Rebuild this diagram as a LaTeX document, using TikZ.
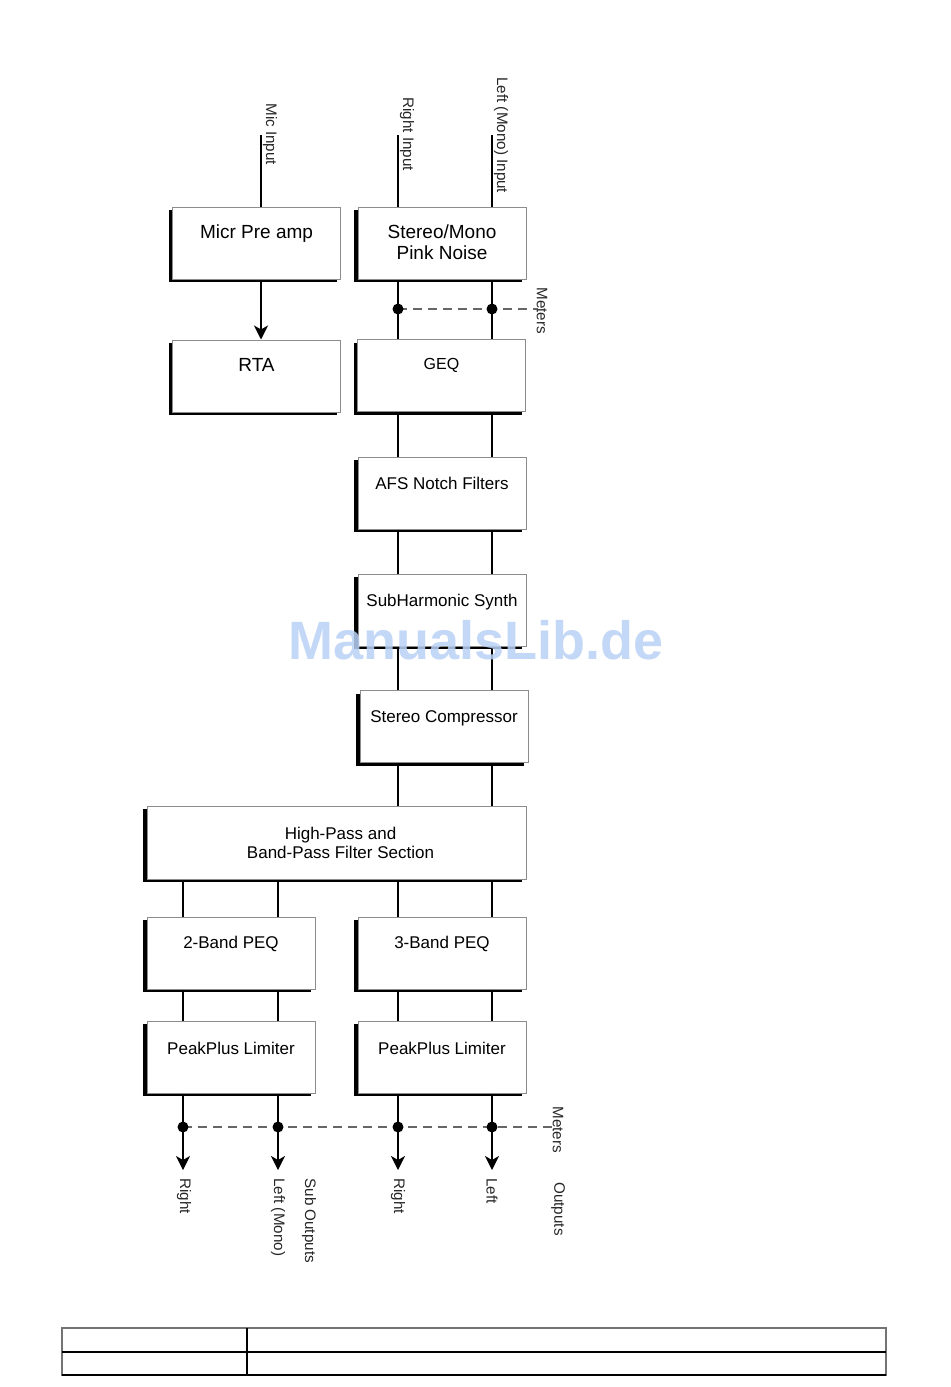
\documentclass[tikz,border=0pt]{standalone}
\usepackage{fontspec}
\setmainfont{Liberation Sans}
\usetikzlibrary{shadows,arrows.meta}
\begin{document}
\begin{tikzpicture}[x=0.5pt,y=-0.5pt,
 blk/.style={rectangle, draw=black!45, line width=0.5pt, fill=white, inner sep=0pt,
   minimum width=84pt, minimum height=36pt,
   general shadow={fill=black, shadow xshift=-1.8pt, shadow yshift=-1.6pt}},
 txt/.style={font=\fontsize{8.5}{9.5}\selectfont, align=center, inner sep=0pt},
 bigtxt/.style={font=\fontsize{9.5}{10.5}\selectfont, align=center, inner sep=0pt},
 smalltxt/.style={font=\fontsize{8}{9}\selectfont, align=center, inner sep=0pt},
 vlab/.style={font=\fontsize{7.6}{9}\selectfont, rotate=-90, anchor=west, inner sep=0pt, text=black!85},
 sig/.style={line width=1pt, black},
 thin sig/.style={line width=0.55pt, black},
 arr/.style={-{Stealth[length=7pt,width=7pt,inset=2pt]}},
 meter/.style={dash pattern=on 4.5pt off 3pt, line width=0.75pt, black!60},
 dot/.style={circle, fill=black, inner sep=0pt, minimum size=5.5pt},
]
\useasboundingbox (0,0) rectangle (950,1387);

% column coordinates
\coordinate (xmic) at (261,0);
\coordinate (xR) at (398,0);
\coordinate (xL) at (492,0);
\coordinate (xa) at (183,0);
\coordinate (xb) at (278,0);

% boxes
\node[blk] (mic) at (256.5,243) {};
\node[blk] (pink) at (442,243) {};
\node[blk] (rta) at (256.5,376) {};
\node[blk] (geq) at (441.5,375.5) {};
\node[blk] (afs) at (442,493) {};
\node[blk] (sub) at (442,610) {};
\node[blk] (comp) at (444,726.5) {};
\node[blk, minimum width=189.5pt, minimum height=36.5pt] (hp) at (336.5,842.5) {};
\node[blk] (peqtwo) at (231,953) {};
\node[blk] (peqthree) at (442,953) {};
\node[blk] (limtwo) at (231,1057) {};
\node[blk] (limthree) at (442,1057) {};

% box texts
\node[bigtxt] (micT) at ([yshift=-13.5pt]mic.north) {Micr Pre amp};
\node[bigtxt] (pinkT) at ([yshift=0.3pt]pink.center) {Stereo/Mono\\[0.2pt]Pink Noise};
\node[bigtxt] (rtaT) at ([yshift=-12.5pt]rta.north) {RTA};
\node[smalltxt] (geqT) at ([yshift=-13pt]geq.north) {GEQ};
\node[txt] (afsT) at ([yshift=-13.5pt]afs.north) {AFS Notch Filters};
\node[txt] (subT) at ([yshift=-14.5pt]sub.north) {SubHarmonic Synth};
\node[txt] (compT) at ([yshift=-14pt]comp.north) {Stereo Compressor};
\node[txt] (hpT) at ([xshift=2pt]hp.center) {High-Pass and\\Band-Pass Filter Section};
\node[txt] (peqtwoT) at ([yshift=-13.5pt]peqtwo.north) {2-Band PEQ};
\node[txt] (peqthreeT) at ([yshift=-13.5pt]peqthree.north) {3-Band PEQ};
\node[txt] (limtwoT) at ([yshift=-14pt]limtwo.north) {PeakPlus Limiter};
\node[txt] (limthreeT) at ([yshift=-14pt]limthree.north) {PeakPlus Limiter};

% inputs
\coordinate (micin) at (261,135);
\coordinate (rin) at (398,135);
\coordinate (lin) at (492,135);
\draw[sig] (micin) -- (micin |- mic.north);
\draw[sig] (rin) -- (rin |- pink.north);
\draw[sig] (lin) -- (lin |- pink.north);
\node[vlab] (micL) at (270,103) {Mic Input};
\node[vlab] (rinL) at (407,97) {Right Input};
\node[vlab] (linL) at (501,77) {Left (Mono) Input};

% mic -> RTA
\draw[sig, arr] (mic.south -| xmic) -- (rta.north -| xmic);

% main chain
\foreach \c in {xR,xL}{
  \draw[sig] (pink.south -| \c) -- (geq.north -| \c);
  \draw[sig] (geq.south -| \c) -- (afs.north -| \c);
  \draw[sig] (afs.south -| \c) -- (sub.north -| \c);
  \draw[sig] (sub.south -| \c) -- (comp.north -| \c);
  \draw[sig] (comp.south -| \c) -- (hp.north -| \c);
  \draw[sig] (hp.south -| \c) -- (peqthree.north -| \c);
  \draw[sig] (peqthree.south -| \c) -- (limthree.north -| \c);
}
\draw[thin sig] (hp.south -| xa) -- (peqtwo.north -| xa);
\draw[sig] (hp.south -| xb) -- (peqtwo.north -| xb);
\draw[thin sig] (peqtwo.south -| xa) -- (limtwo.north -| xa);
\draw[sig] (peqtwo.south -| xb) -- (limtwo.north -| xb);

% top meters
\coordinate (mtopend) at (538,309);
\draw[meter] (398,309) -- (mtopend);
\node[dot] (dA) at (398,309) {};
\node[dot] (dB) at (492,309) {};
\node[vlab] (metA) at (542,287) {Meters};

% outputs
\coordinate (oA) at (183,1170);
\coordinate (oB) at (278,1170);
\coordinate (oC) at (398,1170);
\coordinate (oD) at (492,1170);
\draw[thin sig, arr] (limtwo.south -| xa) -- (oA);
\draw[sig, arr] (limtwo.south -| xb) -- (oB);
\draw[sig, arr] (limthree.south -| xR) -- (oC);
\draw[sig, arr] (limthree.south -| xL) -- (oD);
\coordinate (mbotend) at (553,1127);
\draw[meter] (183,1127) -- (mbotend);
\node[dot] (dC) at (183,1127) {};
\node[dot] (dD) at (278,1127) {};
\node[dot] (dE) at (398,1127) {};
\node[dot] (dF) at (492,1127) {};
\node[vlab] (metB) at (558,1106) {Meters};
\node[vlab] (outA) at (184,1178) {Right};
\node[vlab] (outB) at (278,1178) {Left (Mono)};
\node[vlab] (outS) at (309,1178) {Sub Outputs};
\node[vlab] (outC) at (398,1178) {Right};
\node[vlab] (outD) at (492,1178) {Left};
\node[vlab] (outO) at (558,1182) {Outputs};

% table at the bottom
\draw[line width=0.6pt, black!55] (62,1328) rectangle (886,1375);
\draw[line width=0.6pt, black] (62,1352) -- (886,1352);
\draw[line width=0.6pt, black] (247,1328) -- (247,1375);
\draw[line width=0.8pt, black] (62,1375) -- (886,1375);

% watermark
\node[font=\bfseries\fontsize{27}{30}\selectfont, text={rgb,255:red,185;green,208;blue,245}, opacity=0.85, inner sep=0pt] (wm) at (476,640) {ManualsLib.de};
\end{tikzpicture}
\end{document}
